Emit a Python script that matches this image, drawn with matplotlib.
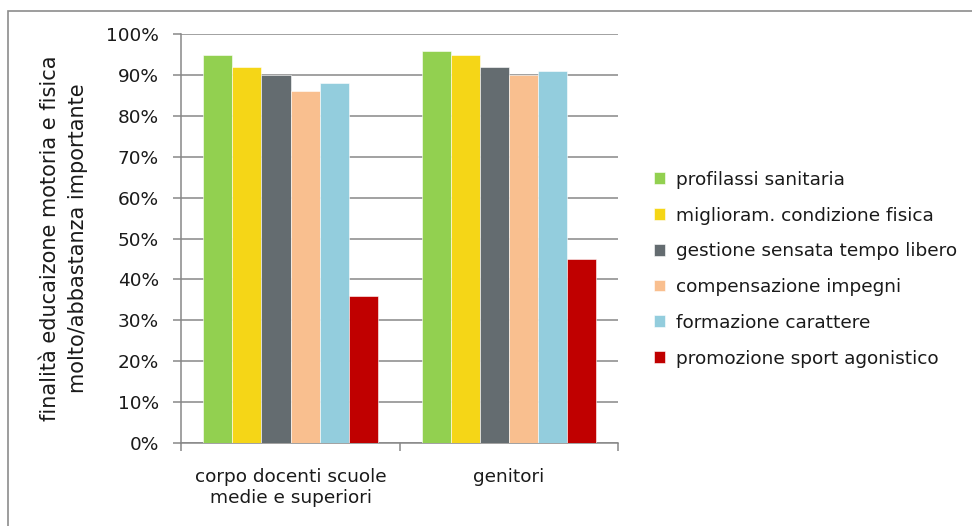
import matplotlib
matplotlib.use("Agg")
import matplotlib.pyplot as plt
import numpy as np
from matplotlib.patches import Rectangle
from matplotlib.ticker import FuncFormatter, MultipleLocator

plt.rcParams['font.family'] = ['DejaVu Sans']

categories = ["corpo docenti scuole\nmedie e superiori", "genitori"]
series_names = [
    "profilassi sanitaria",
    "miglioram. condizione fisica",
    "gestione sensata tempo libero",
    "compensazione impegni",
    "formazione carattere",
    "promozione sport agonistico",
]
series_values = [
    [95, 96],
    [92, 95],
    [90, 92],
    [86, 90],
    [88, 91],
    [36, 45],
]
colors = ["#92D050", "#F5D617", "#646C70", "#F9BF8F", "#93CDDD", "#C00000"]
ylabel = "finalità educaizone motoria e fisica\nmolto/abbastanza importante"

FS = 13.3
TXT = "#1a1a1a"

fig = plt.figure(figsize=(9.72, 5.26), dpi=100)
ax = fig.add_axes([0.1865, 0.158, 0.4495, 0.777])

n = len(series_names)
group_width = 0.797
bw = group_width / n
x = np.arange(len(categories))
for i, (name, vals, c) in enumerate(zip(series_names, series_values, colors)):
    offs = -group_width / 2 + bw * (i + 0.5)
    ax.bar(x + offs, vals, width=bw, color=c, label=name, zorder=3,
           edgecolor="white", linewidth=0.4)

ax.set_xlim(-0.5, len(categories) - 0.5)
ax.set_ylim(0, 100)
ax.yaxis.set_major_locator(MultipleLocator(10))
ax.yaxis.set_major_formatter(FuncFormatter(lambda v, p: f"{v:.0f}%"))
ax.grid(axis="y", color="#878787", linewidth=1.1, zorder=0)
ax.set_axisbelow(True)

for s in ["top", "right"]:
    ax.spines[s].set_visible(False)
for s in ["left", "bottom"]:
    ax.spines[s].set_color("#878787")
    ax.spines[s].set_linewidth(1.1)

ax.set_xticks(x)
ax.set_xticklabels(categories, fontsize=FS, color=TXT, linespacing=1.2)
ax.set_xticks([-0.5, 0.5, 1.5], minor=True)
ax.tick_params(axis="x", which="major", length=0, pad=18)
ax.tick_params(axis="x", which="minor", length=6, color="#878787", width=1.1)
ax.tick_params(axis="y", length=6, color="#878787", width=1.1,
               labelsize=FS, labelcolor=TXT, pad=10)

ax.set_ylabel(ylabel, fontsize=15, color=TXT, labelpad=13,
              linespacing=1.5)

leg = ax.legend(loc="center left", bbox_to_anchor=(1.065, 0.425), frameon=False,
                fontsize=FS, handlelength=0.6, handleheight=0.6,
                handletextpad=0.6, labelspacing=0.96, borderaxespad=0)
for t in leg.get_texts():
    t.set_color(TXT)

# chart area border
fig.patches.append(Rectangle((8 / 972, -0.05), 1.1, 1 - 11 / 526 + 0.05,
                             transform=fig.transFigure, fill=False,
                             edgecolor="#8c8c8c", linewidth=1.2))

fig.savefig("out.png", dpi=100)
